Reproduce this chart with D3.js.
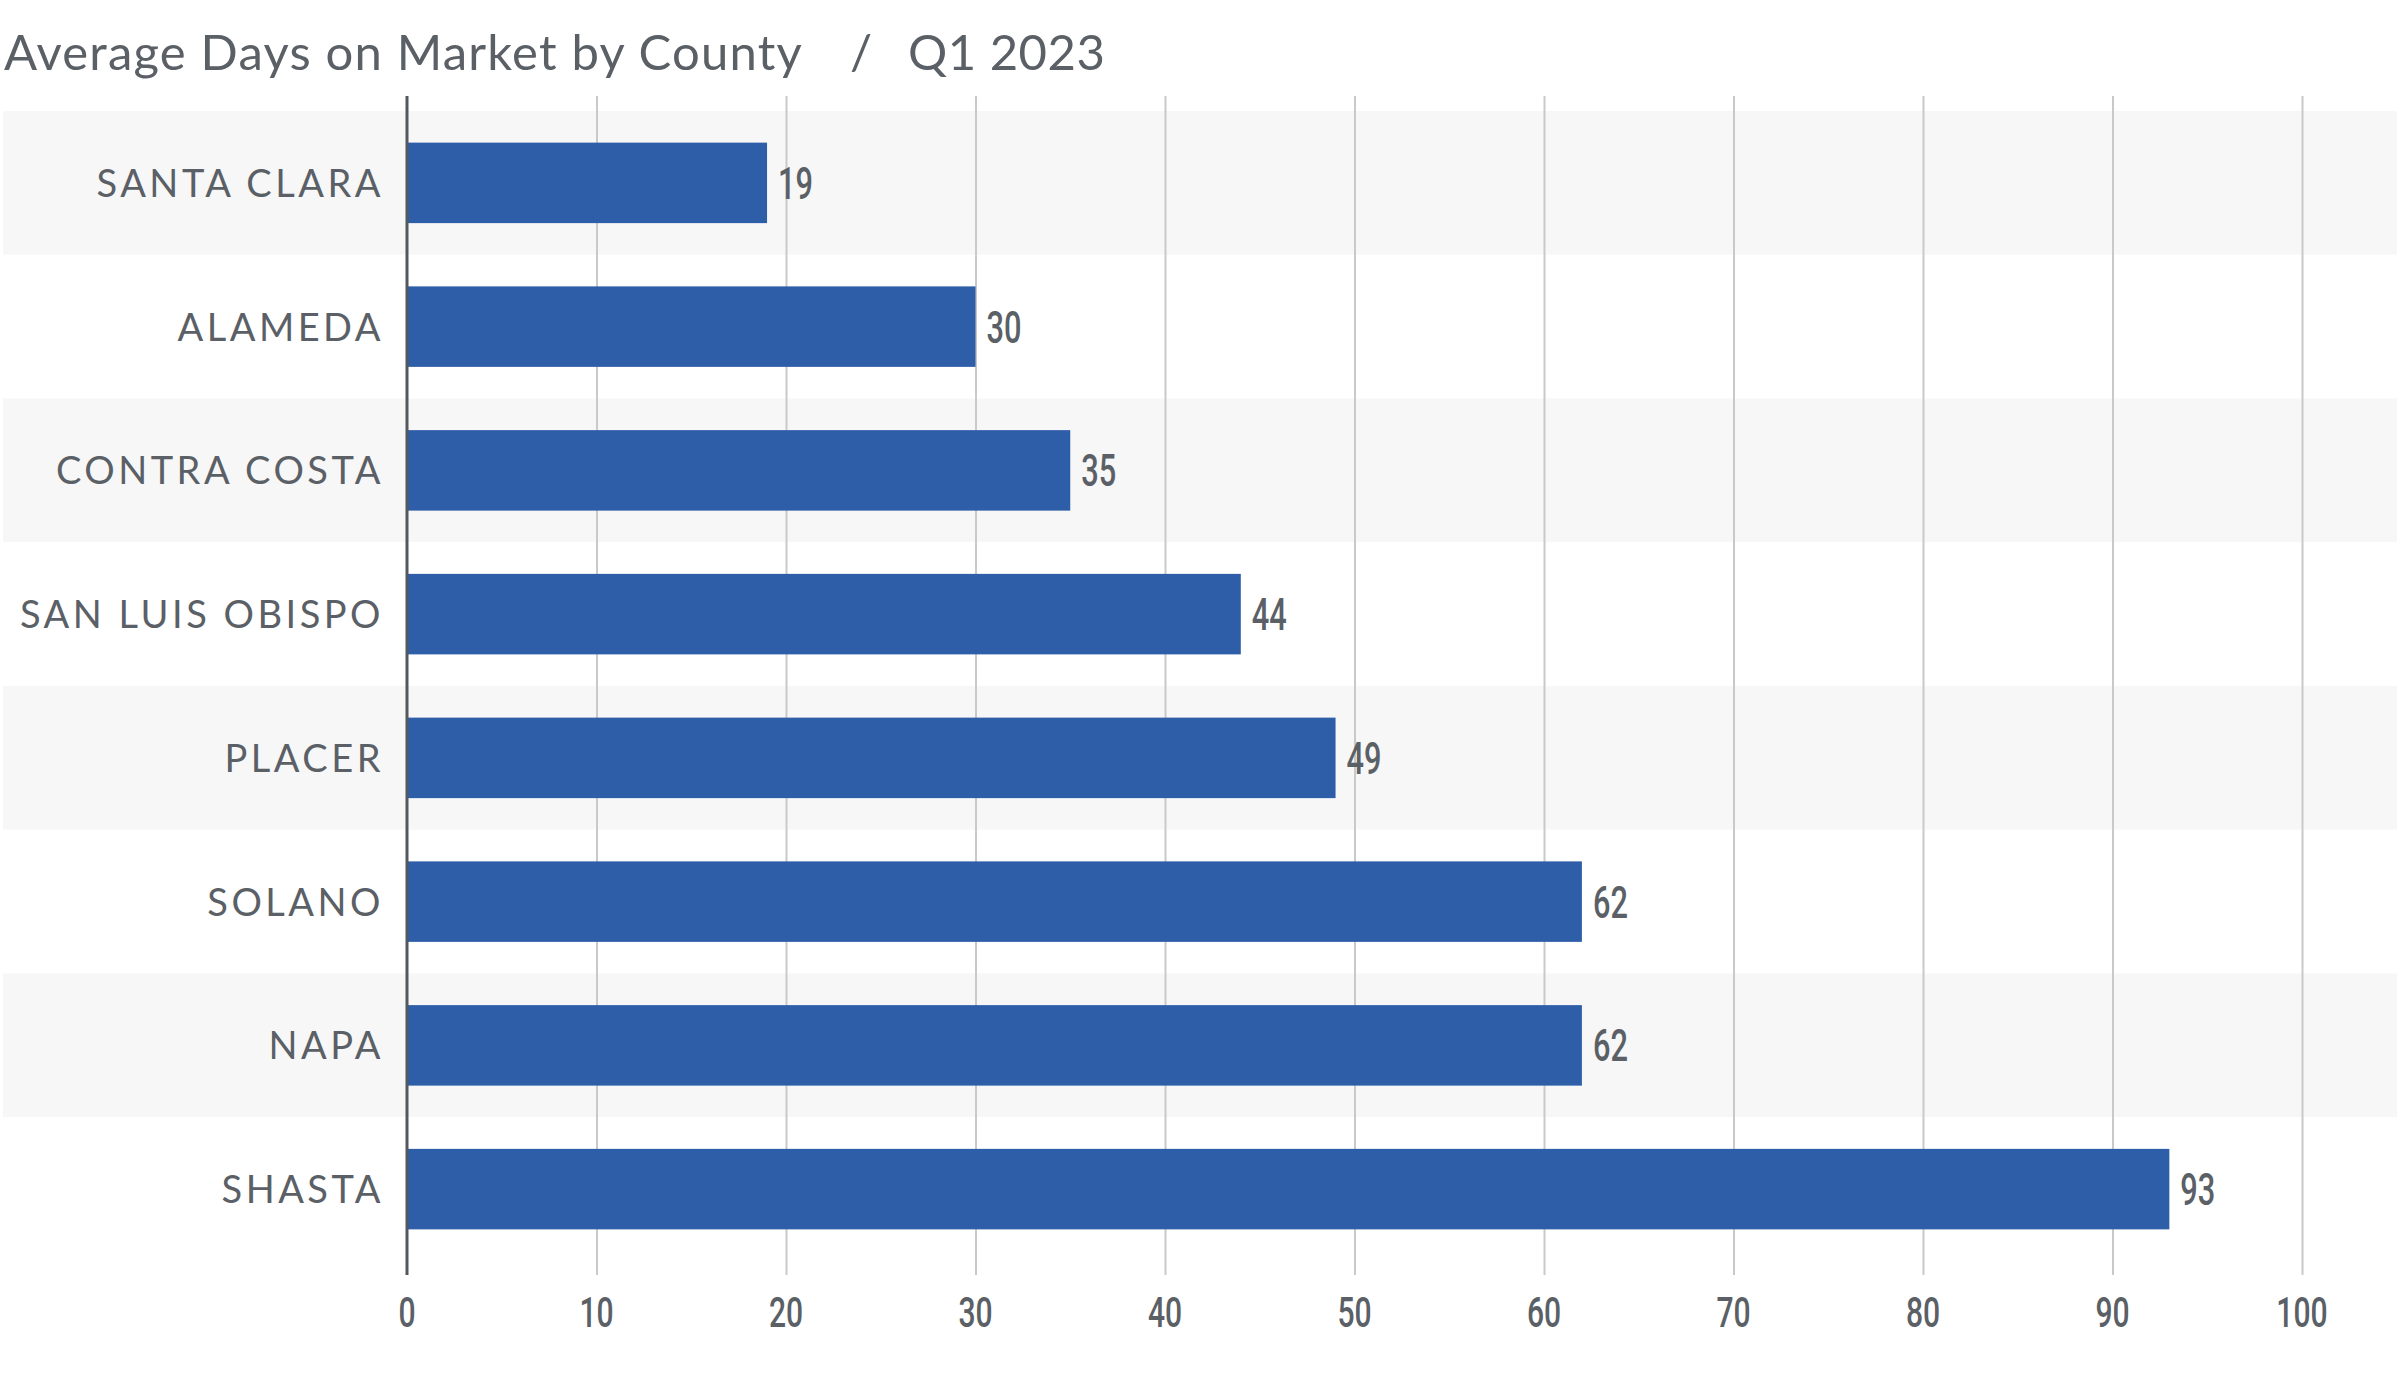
<!DOCTYPE html>
<html>
<head>
<meta charset="utf-8">
<script src="https://cdn.jsdelivr.net/npm/d3@7/dist/d3.min.js"></script>
<style>
  html, body { margin: 0; padding: 0; background: #ffffff; }
  svg { display: block; }
</style>
</head>
<body>
<svg id="chart" width="2400" height="1383"></svg>
<script>
const titleMain = "Average Days on Market by County";
const titleSep = "/";
const titlePeriod = "Q1 2023";
const categories = ["SANTA CLARA", "ALAMEDA", "CONTRA COSTA", "SAN LUIS OBISPO", "PLACER", "SOLANO", "NAPA", "SHASTA"];
const values = [19, 30, 35, 44, 49, 62, 62, 93];
const tickValues = [0, 10, 20, 30, 40, 50, 60, 70, 80, 90, 100];

const W = 2400, H = 1383;
const textColor = "#5a6066";
const barColor = "#2e5ea8";
const bandColor = "#f7f7f7";
const gridColor = "#c9c9c9";
const axisColor = "#53585e";
const sans = "Lato, 'Open Sans', 'Noto Sans', sans-serif";
const cond = "Roboto, 'Noto Sans', sans-serif";
const condScale = 0.7;

const svg = d3.select("#chart");

const x = d3.scaleLinear().domain([0, 100]).range([407, 2302]);
const yBand = d3.scaleBand().domain(categories).range([111, 1261]).paddingInner(0).paddingOuter(0);
const barH = yBand.bandwidth() * 0.56;

const gridTop = 96, gridBottom = 1275;

// background alternating bands
svg.append("g").selectAll("rect")
  .data(categories)
  .join("rect")
  .attr("x", 3)
  .attr("width", 2394)
  .attr("y", d => yBand(d))
  .attr("height", yBand.bandwidth())
  .attr("fill", (d, i) => i % 2 === 0 ? bandColor : "#ffffff");

// gridlines via axis
const gridAxis = d3.axisBottom(x).tickValues(tickValues).tickSize(-(gridBottom - gridTop)).tickFormat("");
const gg = svg.append("g").attr("transform", `translate(0,${gridBottom})`).call(gridAxis);
gg.select(".domain").remove();
gg.selectAll(".tick line").attr("stroke", gridColor).attr("stroke-width", 2);
gg.selectAll(".tick").filter(d => d === 0).remove();

// bars
svg.append("g").selectAll("rect")
  .data(categories)
  .join("rect")
  .attr("x", x(0))
  .attr("y", d => yBand(d) + (yBand.bandwidth() - barH) / 2)
  .attr("height", barH)
  .attr("width", (d, i) => x(values[i]) - x(0))
  .attr("fill", barColor);

// value labels
svg.append("g").selectAll("text")
  .data(categories)
  .join("text")
  .attr("transform", (d, i) => `translate(${x(values[i]) + 11},${yBand(d) + yBand.bandwidth() / 2 + 16}) scale(${condScale},1)`)
  .attr("font-family", cond)
  .attr("font-size", 44)
  .attr("font-weight", 500)
  .attr("fill", textColor)
  .text((d, i) => values[i]);

// category labels
svg.append("g").selectAll("text")
  .data(categories)
  .join("text")
  .attr("x", 384)
  .attr("y", d => yBand(d) + yBand.bandwidth() / 2 + 14)
  .attr("text-anchor", "end")
  .attr("font-family", sans)
  .attr("font-size", 38)
  .attr("letter-spacing", "3.5px")
  .attr("fill", textColor)
  .text(d => d);

// y axis line
svg.append("line")
  .attr("x1", x(0)).attr("x2", x(0))
  .attr("y1", gridTop).attr("y2", gridBottom)
  .attr("stroke", axisColor).attr("stroke-width", 3);

// x tick labels
svg.append("g").selectAll("text")
  .data(tickValues)
  .join("text")
  .attr("transform", d => `translate(${x(d)},1327) scale(${condScale},1)`)
  .attr("text-anchor", "middle")
  .attr("font-family", cond)
  .attr("font-size", 43)
  .attr("font-weight", 500)
  .attr("fill", textColor)
  .text(d => d);

// title
const title = svg.append("text")
  .attr("x", 4)
  .attr("y", 70)
  .attr("font-family", sans)
  .attr("font-size", 49)
  .attr("fill", textColor);
title.append("tspan").attr("letter-spacing", "1.2px").text(titleMain);
title.append("tspan").attr("x", 850).text(titleSep);
title.append("tspan").attr("x", 908).attr("letter-spacing", "0.5px").text(titlePeriod);
</script>
</body>
</html>
